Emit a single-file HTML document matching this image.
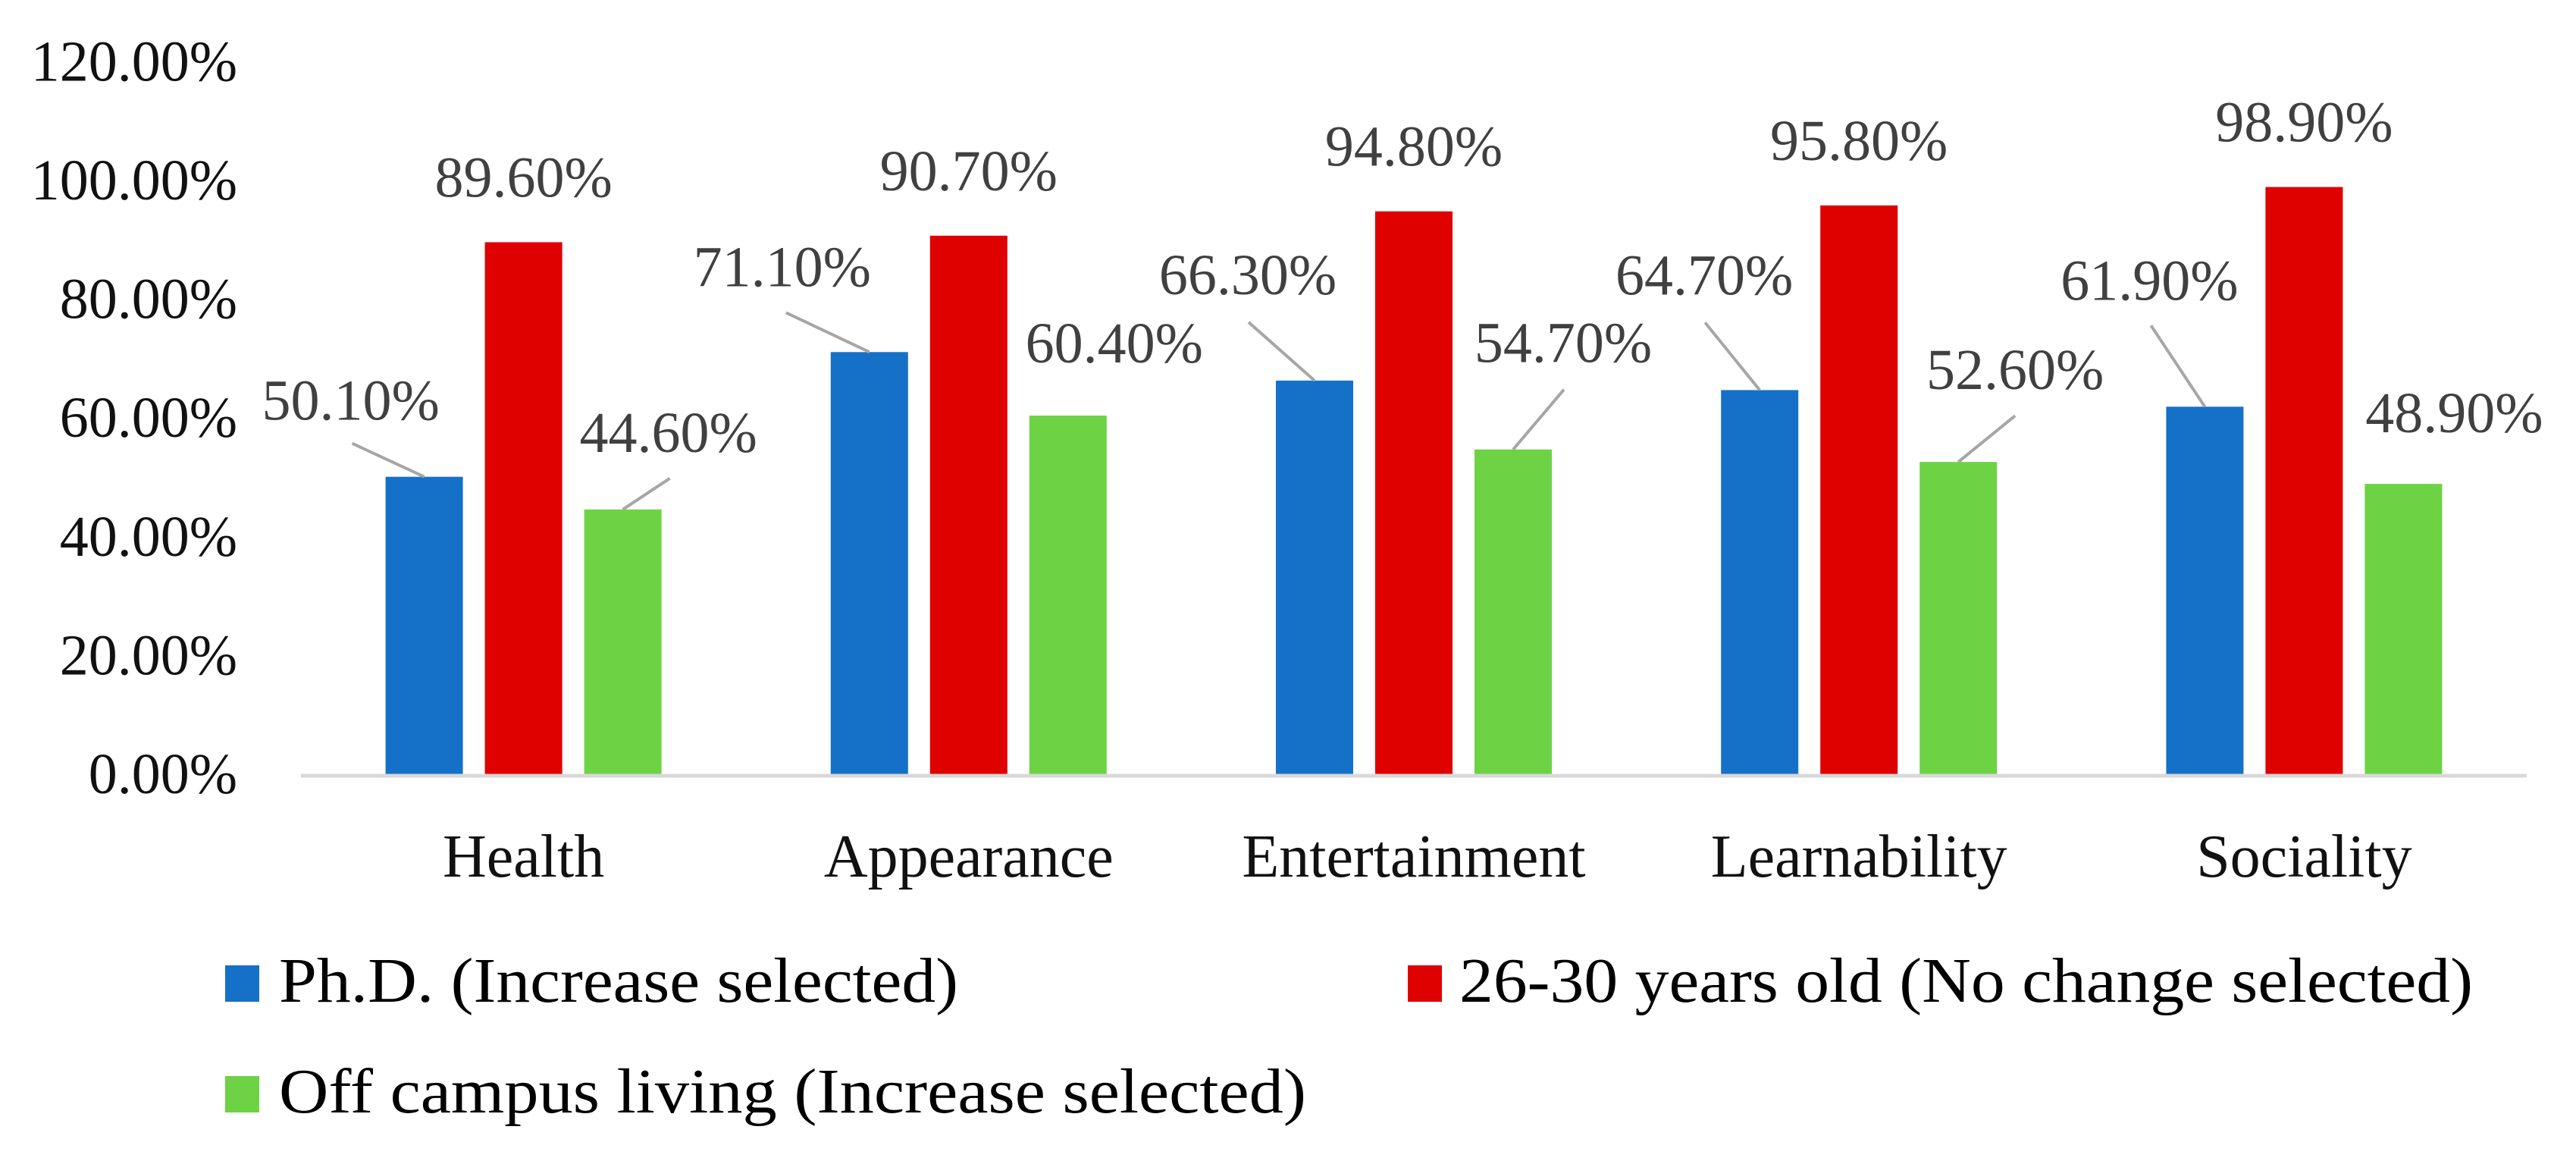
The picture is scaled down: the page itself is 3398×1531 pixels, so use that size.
<!DOCTYPE html>
<html><head><meta charset="utf-8">
<style>
html,body{margin:0;padding:0;background:#fff;}
svg{display:block;font-family:"Liberation Serif",serif;}
</style></head>
<body>
<svg id="chart" width="3398" height="1531" viewBox="0 0 3398 1531" xmlns="http://www.w3.org/2000/svg">
<rect width="3398" height="1531" fill="#fff"/>
<g id="yaxis"></g>
<g id="bars"></g>
<g id="labels"></g>
<g id="xaxis"></g>
<g id="legend">
  <rect x="297" y="1273" width="45" height="48" fill="#1570C8"/>
  <text x="368" y="1321" font-size="84" fill="#000" textLength="896" lengthAdjust="spacingAndGlyphs">Ph.D. (Increase selected)</text>
  <rect x="1857" y="1273" width="45" height="48" fill="#DF0000"/>
  <text x="1925" y="1321" font-size="84" fill="#000" textLength="1337" lengthAdjust="spacingAndGlyphs">26-30 years old (No change selected)</text>
  <rect x="297" y="1419" width="45" height="48" fill="#6DD344"/>
  <text x="368" y="1467" font-size="84" fill="#000" textLength="1355" lengthAdjust="spacingAndGlyphs">Off campus living (Increase selected)</text>
</g>
</svg>
<script>
const categories = ["Health","Appearance","Entertainment","Learnability","Sociality"];
const phdValues = [50.1, 71.1, 66.3, 64.7, 61.9];
const ageValues = [89.6, 90.7, 94.8, 95.8, 98.9];
const campusValues = [44.6, 60.4, 54.7, 52.6, 48.9];
const yTicks = [0, 20, 40, 60, 80, 100, 120];
const yTickLabels = ["0.00%","20.00%","40.00%","60.00%","80.00%","100.00%","120.00%"];

// layout
const NS = "http://www.w3.org/2000/svg";
const plotLeft = 397, plotRight = 3333, baseY = 1021, pxPerPct = 7.83;
const catW = (plotRight - plotLeft) / categories.length;
const barW = 102, barStep = 131;
function yScale(v){ return baseY - v * pxPerPct; }
function xCenter(i){ return plotLeft + catW * (i + 0.5); }
const series = [
  {name:"phd", vals:phdValues, color:"#1570C8", off:-barStep},
  {name:"age", vals:ageValues, color:"#DF0000", off:0},
  {name:"campus", vals:campusValues, color:"#6DD344", off:barStep}
];
// label offsets relative to bar top center: [dx, dy, leaderDx, leaderDy or null]
const labelLayout = {
  phd: [[-97,-100,-95,-44],[-115,-112,-110,-52],[-88,-139,-87,-77],[-73,-151,-72,-89],[-73,-166,-71,-107]],
  age: [[0,-85,null,null],[0,-85,null,null],[0,-85,null,null],[0,-85,null,null],[0,-85,null,null]],
  campus: [[60,-101,62,-41],[61,-95,null,null],[66,-140,67,-79],[75,-121,75,-61],[67,-93,null,null]]
};
function mk(tag, attrs){ const e=document.createElementNS(NS,tag); for(const k in attrs) e.setAttribute(k, attrs[k]); return e; }

const yg = document.getElementById('yaxis');
yTicks.forEach((t,i)=>{
  const tx = mk('text',{x:313,y:yScale(t)+25,'font-size':76,'text-anchor':'end',fill:'#111'});
  
  
  tx.textContent = yTickLabels[i];
  yg.appendChild(tx);
});

const bg = document.getElementById('bars');
const lg = document.getElementById('labels');
series.forEach(s=>{
  s.vals.forEach((v,i)=>{
    const cx = xCenter(i) + s.off, top = yScale(v);
    const r = mk('rect',{x:cx-barW/2,y:top,width:barW,height:baseY-top,fill:s.color});
    
    
    bg.appendChild(r);
    const L = labelLayout[s.name][i];
    if(L[2]!==null){
      const ln = mk('line',{x1:cx+L[2],y1:top+L[3],x2:cx,y2:top,stroke:'#a6a6a6','stroke-width':4});
      
      
      lg.appendChild(ln);
    }
    const t = mk('text',{x:cx+L[0],y:top+L[1]+25,'font-size':76,'text-anchor':'middle',fill:'#404040'});
    
    
    t.textContent = v.toFixed(2) + '%';
    lg.appendChild(t);
  });
});

const xg = document.getElementById('xaxis');
const axis = mk('line',{x1:plotLeft,y1:baseY+2,x2:plotRight,y2:baseY+2,stroke:'#d9d9d9','stroke-width':5});


xg.appendChild(axis);
categories.forEach((c,i)=>{
  const t = mk('text',{x:xCenter(i),y:1156,'font-size':80,'text-anchor':'middle',fill:'#111'});
  
  
  t.textContent = c;
  xg.appendChild(t);
});
</script>
</body></html>
